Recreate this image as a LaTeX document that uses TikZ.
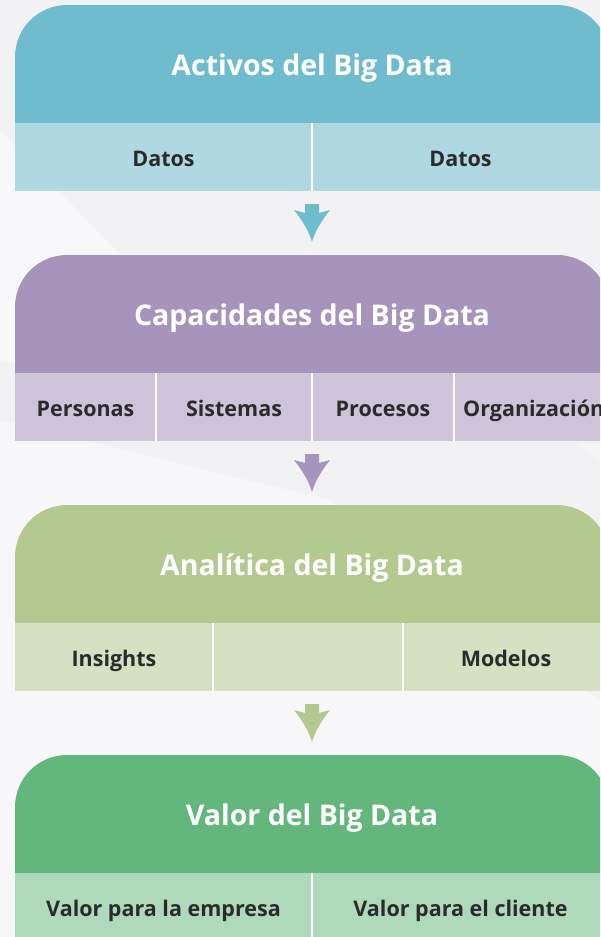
\documentclass[tikz,border=0pt]{standalone}
\usepackage{fontspec}
\setmainfont{Open Sans}
\definecolor{bgc}{HTML}{F2F2F5}
\definecolor{txt}{HTML}{2B2B2B}
\definecolor{hA}{HTML}{6FBCCF}\definecolor{sA}{HTML}{B0D8E2}
\definecolor{hB}{HTML}{A694BD}\definecolor{sB}{HTML}{CEC4DA}
\definecolor{hC}{HTML}{B2CA90}\definecolor{sC}{HTML}{D4E1C3}
\definecolor{hD}{HTML}{63B77C}\definecolor{sD}{HTML}{AED9BB}
\tikzset{
  ttl/.style={text=white,font=\fontsize{28.5}{32}\selectfont\bfseries,inner sep=0pt,anchor=base},
  lbl/.style={text=txt,font=\fontsize{21.5}{25}\selectfont\bfseries,inner sep=0pt,anchor=base},
  divline/.style={draw=white,line width=1.5pt},
}
\newcommand{\mypanel}[3]{% top y, header color, sub color
  \fill[#2] (15,#1+118) {[rounded corners=52pt] -- (15,#1) -- (609,#1)} -- (609,#1+118) -- cycle;
  \fill[#3] (15,#1+118) rectangle (609,#1+186);
}
\newcommand{\flowarrow}[2]{% top y, color
  \fill[#2] (305,#1) -- (319,#1) -- (319,#1+9) -- (330,#1+6)
    .. controls (322,#1+16) and (315,#1+27) .. (312,#1+38)
    .. controls (309,#1+27) and (302,#1+16) .. (294,#1+6)
    -- (305,#1+9) -- cycle;
}
\begin{document}
\begin{tikzpicture}[x=1pt,y=-1pt]
\useasboundingbox (0,0) rectangle (600,937);
\clip (0,0) rectangle (600,937);
\fill[bgc] (0,0) rectangle (600,937);
\fill[white,opacity=0.5] (0,130) -- (120,255) -- (300,420) -- (0,360) -- cycle;
\fill[white,opacity=0.45] (0,420) -- (330,500) -- (600,700) -- (600,937) -- (0,937) -- cycle;
\fill[white,opacity=0.3] (300,250) -- (600,330) -- (600,460) -- cycle;
% panels
\mypanel{5}{hA}{sA}
\mypanel{255}{hB}{sB}
\mypanel{505}{hC}{sC}
\mypanel{755}{hD}{sD}
% dividers
\draw[divline] (312,123) -- (312,191);
\draw[divline] (156,373) -- (156,441);
\draw[divline] (312,373) -- (312,441);
\draw[divline] (454,373) -- (454,441);
\draw[divline] (213,623) -- (213,691);
\draw[divline] (403,623) -- (403,691);
\draw[divline] (312,873) -- (312,937);
% arrows
\flowarrow{204}{hA}
\flowarrow{454}{hB}
\flowarrow{704}{hC}
% titles
\node[ttl] (t1) at (312,75) {Activos del Big Data};
\node[ttl] (t2) at (312,325) {Capacidades del Big Data};
\node[ttl] (t3) at (312,575) {Analítica del Big Data};
\node[ttl] (t4) at (312,825) {Valor del Big Data};
% labels
\node[lbl] (a1) at (163.5,166) {Datos};
\node[lbl] (a2) at (460.5,166) {Datos};
\node[lbl] (b1) at (85.5,416) {Personas};
\node[lbl] (b2) at (234,416) {Sistemas};
\node[lbl] (b3) at (383,416) {Procesos};
\node[lbl,anchor=base west] (b4) at (463,416) {Organización};
\node[lbl] (c1) at (114,666) {Insights};
\node[lbl] (c3) at (506,666) {Modelos};
\node[lbl] (d1) at (163.5,916) {Valor para la empresa};
\node[lbl] (d2) at (460.5,916) {Valor para el cliente};
\end{tikzpicture}
\end{document}
